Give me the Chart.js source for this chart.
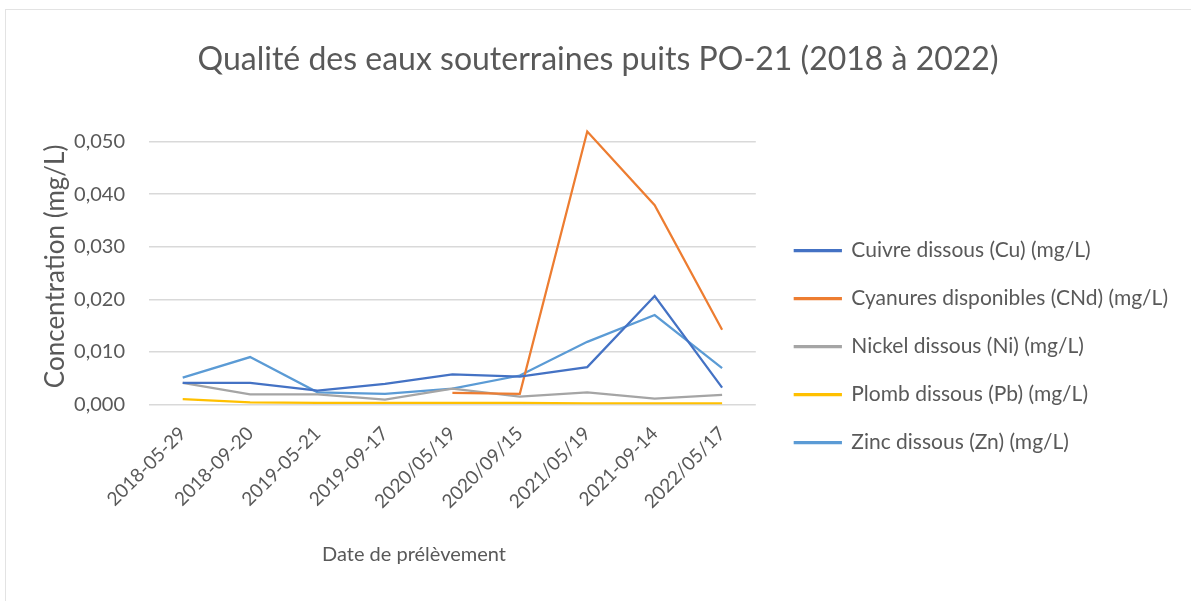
<!DOCTYPE html>
<html lang="fr">
<head>
<meta charset="utf-8">
<title>Qualité des eaux souterraines puits PO-21</title>
<script src="https://cdn.jsdelivr.net/npm/chart.js@4.4.1/dist/chart.umd.min.js"></script>
<style>
  html, body { margin: 0; padding: 0; background: #fff; }
  #wrap { position: relative; width: 1191px; height: 601px; }
  #frame { position: absolute; left: 5px; top: 9px; right: -2px; bottom: -2px; border: 1px solid #e3e3e3; }
</style>
</head>
<body>
<div id="wrap">
  <div id="frame"></div>
  <canvas id="chart" width="1191" height="601"></canvas>
</div>
<script>
// Dates de prélèvement
const dates = ['2018-05-29', '2018-09-20', '2019-05-21', '2019-09-17', '2020/05/19',
               '2020/09/15', '2021/05/19', '2021-09-14', '2022/05/17'];

// Concentrations (mg/L)
const cuivre   = [0.0041, 0.0041, 0.0026, 0.0039, 0.0057, 0.0053, 0.0071, 0.0206, 0.0032];
const cyanures = [null, null, null, null, 0.0022, 0.0020, 0.0519, 0.0379, 0.0142];
const nickel   = [0.0041, 0.0019, 0.0019, 0.0009, 0.0030, 0.0015, 0.0023, 0.0011, 0.0018];
const plomb    = [0.0010, 0.0004, 0.0003, 0.0003, 0.0003, 0.0003, 0.0002, 0.0002, 0.0002];
const zinc     = [0.0051, 0.0090, 0.0023, 0.0020, 0.0030, 0.0055, 0.0119, 0.0170, 0.0069];

const yTicks = [0, 0.01, 0.02, 0.03, 0.04, 0.05];

const textColor = '#595959';

function serie(label, data, color) {
    return {
        label: label,
        data: data,
        borderColor: color,
        backgroundColor: color,
        borderWidth: 2.25,
        pointRadius: 0,
        tension: 0,
        spanGaps: false
    };
}

const ctx = document.getElementById('chart').getContext('2d');
new Chart(ctx, {
    type: 'line',
    data: {
        labels: dates,
        datasets: [
            serie('Cuivre dissous (Cu) (mg/L)', cuivre, '#4472C4'),
            serie('Cyanures disponibles (CNd) (mg/L)', cyanures, '#ED7D31'),
            serie('Nickel dissous (Ni) (mg/L)', nickel, '#A5A5A5'),
            serie('Plomb dissous (Pb) (mg/L)', plomb, '#FFC000'),
            serie('Zinc dissous (Zn) (mg/L)', zinc, '#5B9BD5')
        ]
    },
    options: {
        responsive: false,
        animation: false,
        layout: { padding: { left: 18, right: 13, top: 40, bottom: 30 } },
        plugins: {
            title: {
                display: true,
                text: 'Qualité des eaux souterraines puits PO-21 (2018 à 2022)',
                color: textColor,
                font: { family: 'Lato', size: 32, weight: 'normal' },
                padding: { top: 0, bottom: 50 }
            },
            legend: {
                position: 'right',
                maxWidth: 520,
                title: { display: true, text: ' ', padding: { top: 0, bottom: 70 }, font: { size: 10 } },
                labels: {
                    color: textColor,
                    font: { family: 'Lato', size: 21 },
                    boxWidth: 46,
                    boxHeight: 1,
                    padding: 27
                }
            },
            tooltip: { enabled: false }
        },
        scales: {
            x: {
                offset: true,
                grid: { display: false },
                border: { display: false },
                // les étiquettes inclinées débordent à gauche, sous l'axe y
                afterFit: (axis) => { axis.paddingLeft = 0; },
                ticks: {
                    color: textColor,
                    font: { family: 'Lato', size: 19 },
                    minRotation: 45,
                    maxRotation: 45,
                    padding: 10
                },
                title: {
                    display: true,
                    text: 'Date de prélèvement' + ' '.repeat(15),
                    color: textColor,
                    font: { family: 'Lato', size: 20 },
                    padding: { top: 20, bottom: 4 }
                }
            },
            y: {
                min: 0,
                max: 0.0525,
                afterBuildTicks: (axis) => {
                    axis.ticks = yTicks.map(v => ({ value: v }));
                },
                afterFit: (axis) => { axis.width = 131; },
                grid: { color: '#d9d9d9', lineWidth: 1.5, drawTicks: false },
                border: { display: false },
                ticks: {
                    color: textColor,
                    font: { family: 'Lato', size: 20 },
                    padding: 24,
                    callback: (v) => v.toFixed(3).replace('.', ',')
                },
                title: {
                    display: true,
                    text: 'Concentration (mg/L)',
                    color: textColor,
                    font: { family: 'Lato', size: 26 },
                    padding: { top: 22, bottom: 4 }
                }
            },
            // marge vide entre la zone de tracé et la légende
            yr: {
                position: 'right',
                grid: { display: false },
                border: { display: false },
                ticks: { display: false },
                afterFit: (axis) => { axis.width = 12; }
            }
        }
    }
});
</script>
</body>
</html>
